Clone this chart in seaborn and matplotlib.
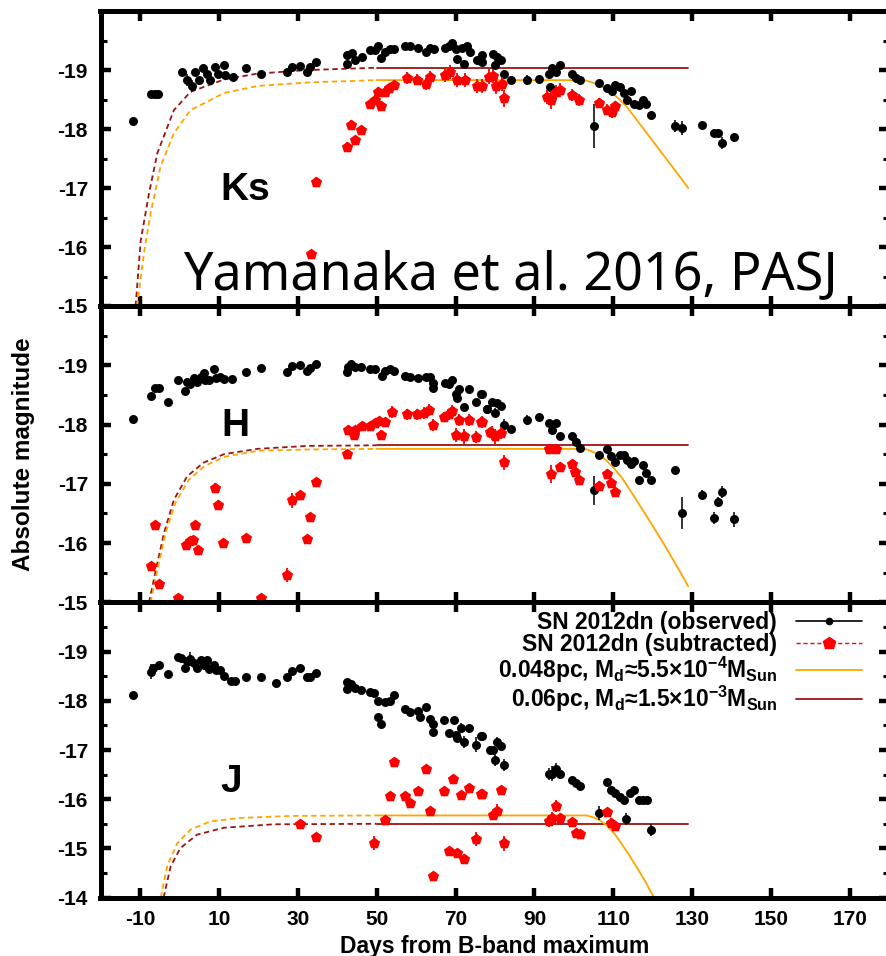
import matplotlib
matplotlib.use("Agg")
import matplotlib.pyplot as plt
from matplotlib.lines import Line2D
from matplotlib.ticker import MultipleLocator, FixedLocator
import numpy as np
import pandas as pd
import seaborn as sns

# ---------------- Ks band ----------------
ks_obs_day = [-11.7, -7.2, -6.3, -5.4, 0.6, 1.9, 3.2, 4.0, 4.9, 6.1, 7.0, 7.8, 9.1, 9.9, 11.2, 11.6,
              13.7, 16.8, 20.7, 27.3, 28.6, 30.7, 32.4, 33.2, 34.7, 42.4, 42.5, 43.8, 44.6, 46.3,
              48.4, 49.7, 50.3, 51.1, 52.2, 53.3, 54.5, 57.3, 58.4, 60.4, 62.4, 63.6, 64.5, 67.4,
              68.3, 69.1, 70.0, 70.4, 71.7, 72.1, 72.9, 73.8, 75.5, 76.7, 76.7, 79.5, 80.5, 81.5,
              80.1, 82.2, 84.1, 88.1, 91.1, 93.6, 94.5, 95.5, 96.4, 94.0, 99.5, 100.6, 101.6,
              106.3, 108.4, 109.7, 110.5, 111.6, 112.6, 113.5, 114.5, 115.3, 116.4, 117.5, 118.3,
              119.5, 105.2, 125.7, 127.5, 132.6, 135.6, 136.5, 137.5, 140.6]
ks_obs_mag = [-18.14, -18.60, -18.60, -18.60, -18.97, -18.83, -18.73, -18.97, -18.83, -19.03, -18.94,
              -18.83, -19.06, -18.94, -19.08, -18.92, -18.89, -19.03, -18.94, -18.97, -19.06, -19.07,
              -18.97, -19.06, -19.14, -19.10, -19.25, -19.29, -19.17, -19.22, -19.34, -19.34, -19.41,
              -19.20, -19.31, -19.35, -19.35, -19.41, -19.41, -19.37, -19.31, -19.37, -19.35, -19.37,
              -19.41, -19.46, -19.35, -19.18, -19.37, -19.11, -19.40, -19.31, -19.17, -19.25, -19.14,
              -19.28, -19.23, -19.17, -19.08, -18.94, -18.84, -18.83, -18.85, -18.93, -19.03, -18.97,
              -19.08, -18.71, -18.93, -18.86, -18.83, -18.78, -18.69, -18.65, -18.75, -18.71, -18.61,
              -18.50, -18.65, -18.42, -18.41, -18.49, -18.43, -18.24, -18.05, -18.05, -18.02, -18.07,
              -17.94, -17.94, -17.76, -17.86]
ks_obs_err = [0.07, 0.05, 0.05, 0.05, 0.04, 0.10, 0.10, 0.05, 0.05, 0.05, 0.05, 0.05, 0.05, 0.05, 0.05, 0.05,
              0.04, 0.04, 0.04, 0.04, 0.04, 0.04, 0.04, 0.04, 0.04, 0.05, 0.04, 0.04, 0.04, 0.04,
              0.04, 0.04, 0.04, 0.04, 0.04, 0.04, 0.04, 0.04, 0.04, 0.04, 0.04, 0.04, 0.04, 0.04,
              0.04, 0.05, 0.05, 0.06, 0.04, 0.06, 0.04, 0.04, 0.05, 0.05, 0.05, 0.04, 0.05, 0.05,
              0.06, 0.06, 0.06, 0.08, 0.06, 0.05, 0.05, 0.05, 0.05, 0.06, 0.05, 0.05, 0.05,
              0.05, 0.05, 0.05, 0.05, 0.05, 0.05, 0.05, 0.05, 0.05, 0.05, 0.05, 0.05,
              0.05, 0.37, 0.10, 0.12, 0.06, 0.06, 0.06, 0.10, 0.08]

ks_sub_day = [33.3, 34.7, 42.4, 44.5, 43.6, 46.1, 48.4, 51.0, 49.7, 50.3, 52.2, 53.1, 54.3, 57.7, 60.3,
              62.4, 63.6, 67.4, 68.7, 70.4, 72.5, 75.5, 78.4, 76.7, 79.5, 80.3, 81.8, 82.2, 93.2, 94.2,
              95.5, 96.6, 99.5, 101.2, 106.3, 108.4, 109.7, 110.5]
ks_sub_mag = [-15.89, -17.10, -17.70, -17.81, -18.07, -17.98, -18.42, -18.39, -18.49, -18.63, -18.63,
              -18.69, -18.75, -18.86, -18.84, -18.76, -18.89, -18.92, -18.97, -18.83, -18.83, -18.73,
              -18.89, -18.73, -18.90, -18.73, -18.77, -18.52, -18.55, -18.49, -18.63, -18.66, -18.58,
              -18.49, -18.44, -18.33, -18.29, -18.39]
ks_sub_err = [0.05, 0.08, 0.08, 0.08, 0.08, 0.08, 0.08, 0.08, 0.08, 0.08, 0.08, 0.08, 0.08, 0.10, 0.10,
              0.10, 0.10, 0.12, 0.12, 0.12, 0.12, 0.12, 0.12, 0.12, 0.12, 0.14, 0.12, 0.14, 0.12, 0.15,
              0.12, 0.12, 0.10, 0.10, 0.08, 0.10, 0.10, 0.08]

ks_m048_day = [-10.7, -9.0, -7.3, -4.8, -1.4, 2.8, 11.3, 19.7, 32.4, 50.0, 101.6, 103.3, 105.0, 106.7,
               108.4, 110.1, 111.8, 113.5, 116.0, 118.5, 122.7, 126.9, 129.0]
ks_m048_mag = [-15.0, -15.89, -16.57, -17.36, -17.93, -18.32, -18.61, -18.73, -18.79, -18.83, -18.83,
               -18.82, -18.78, -18.74, -18.67, -18.59, -18.49, -18.37, -18.15, -17.93, -17.56, -17.19,
               -17.0]
ks_m06_day = [-11.1, -9.8, -7.7, -5.6, -1.4, 2.8, 11.3, 19.7, 32.4, 50.0, 129.0]
ks_m06_mag = [-15.0, -16.11, -16.91, -17.59, -18.32, -18.63, -18.84, -18.94, -19.0, -19.04, -19.04]

# ---------------- H band ----------------
h_obs_day = [-11.7, -7.3, -6.3, -5.2, -2.8, -0.3, 1.3, 2.0, 2.8, 3.7, 4.4, 5.4, 6.2, 6.6, 7.5, 8.7, 9.4,
             10.4, 11.3, 13.4, 16.8, 20.7, 27.2, 28.6, 30.7, 32.4, 33.2, 34.7, 42.4, 42.7, 43.5, 44.6,
             46.1, 48.4, 49.7, 51.4, 52.1, 53.3, 54.5, 57.3, 58.4, 60.4, 62.4, 63.6, 64.3, 64.3, 67.4,
             68.3, 69.1, 70.2, 70.4, 71.0, 72.2, 73.3, 75.3, 76.5, 78.0, 76.7, 78.1, 79.3, 80.4, 81.5,
             80.1, 82.2, 84.1, 88.1, 91.1, 93.6, 94.5, 95.5, 96.4, 99.5, 100.6, 101.6, 105.2, 106.4,
             108.4, 109.4, 110.5, 111.6, 112.6, 113.5, 114.5, 115.3, 116.4, 117.5, 118.3, 119.5, 125.7,
             127.5, 132.6, 135.6, 136.5, 137.5, 140.6]
h_obs_mag = [-18.10, -18.49, -18.61, -18.61, -18.38, -18.76, -18.57, -18.72, -18.68, -18.79, -18.72,
             -18.81, -18.87, -18.76, -18.76, -18.93, -18.79, -18.80, -18.77, -18.77, -18.89, -18.95,
             -18.89, -18.99, -19.0, -18.90, -18.95, -19.02, -18.89, -18.97, -19.02, -18.97, -18.97,
             -18.93, -18.93, -18.82, -18.90, -18.93, -18.90, -18.82, -18.81, -18.79, -18.81, -18.81,
             -18.70, -18.61, -18.70, -18.68, -18.76, -18.51, -18.44, -18.60, -18.30, -18.60, -18.38,
             -18.51, -18.26, -18.51, -18.26, -18.38, -18.36, -18.32, -18.20, -18.0, -17.93, -18.08,
             -18.12, -18.02, -17.91, -18.02, -17.80, -17.80, -17.70, -17.61, -16.89, -17.48, -17.58,
             -17.47, -17.37, -17.48, -17.48, -17.41, -17.33, -17.39, -17.07, -17.31, -17.19, -17.06,
             -17.24, -16.50, -16.82, -16.42, -16.69, -16.86, -16.40]
h_obs_err = [0.03, 0.03, 0.03, 0.03, 0.03, 0.03, 0.03, 0.03, 0.03, 0.03, 0.03, 0.03, 0.03, 0.03, 0.03, 0.03,
             0.03, 0.03, 0.03, 0.03, 0.03, 0.03, 0.03, 0.03, 0.03, 0.03, 0.03, 0.03, 0.03, 0.03, 0.03,
             0.03, 0.03, 0.03, 0.03, 0.03, 0.03, 0.03, 0.03, 0.03, 0.03, 0.03, 0.03, 0.03, 0.03, 0.03,
             0.03, 0.03, 0.03, 0.05, 0.05, 0.05, 0.05, 0.05, 0.05, 0.05, 0.05, 0.05, 0.05, 0.05, 0.05,
             0.05, 0.08, 0.10, 0.05, 0.08, 0.06, 0.05, 0.05, 0.05, 0.06, 0.05, 0.05, 0.05, 0.25, 0.05,
             0.05, 0.05, 0.05, 0.05, 0.05, 0.05, 0.05, 0.05, 0.05, 0.05, 0.05, 0.05,
             0.06, 0.27, 0.08, 0.10, 0.08, 0.10, 0.12]

h_sub_day = [-7.1, -6.3, -5.2, -0.4, 1.8, 2.8, 3.5, 3.9, 4.8, 9.0, 9.8, 11.1, 16.8, 20.7, 27.3, 28.6,
             30.7, 32.4, 33.2, 34.7, 42.4, 42.7, 44.2, 44.6, 46.3, 48.4, 49.7, 50.5, 51.1, 52.2, 53.9,
             57.6, 60.3, 61.9, 63.2, 64.3, 67.2, 68.3, 69.1, 70.2, 71.0, 72.2, 73.3, 75.3, 76.5, 78.7,
             76.7, 79.3, 80.1, 81.5, 82.2, 93.6, 95.5, 94.2, 96.4, 99.5, 100.4, 101.4, 106.4, 108.4,
             109.4, 110.5]
h_sub_mag = [-15.62, -16.31, -15.31, -15.07, -15.96, -16.03, -16.06, -16.30, -15.89, -16.93, -16.65,
             -16.01, -16.09, -15.08, -15.46, -16.72, -16.82, -16.07, -16.44, -17.03, -17.51, -17.91,
             -17.83, -17.91, -17.97, -17.97, -18.03, -18.06, -17.82, -18.04, -18.21, -18.17, -18.17,
             -18.20, -18.25, -17.99, -18.13, -18.17, -18.23, -17.82, -18.08, -17.80, -18.08, -17.79,
             -18.04, -17.87, -18.04, -17.86, -17.80, -17.86, -17.36, -17.59, -17.59, -17.17, -17.29,
             -17.34, -17.20, -17.06, -16.96, -17.17, -17.02, -16.87]
h_sub_err = [0.05, 0.04, 0.04, 0.04, 0.05, 0.05, 0.05, 0.05, 0.04, 0.08, 0.08, 0.05, 0.04, 0.04, 0.12, 0.12,
             0.05, 0.04, 0.04, 0.04, 0.04, 0.08, 0.05, 0.05, 0.05, 0.05, 0.06, 0.06, 0.08, 0.06, 0.10,
             0.10, 0.10, 0.10, 0.10, 0.10, 0.08, 0.10, 0.10, 0.12, 0.10, 0.12, 0.10, 0.10, 0.08, 0.08,
             0.10, 0.12, 0.12, 0.10, 0.12, 0.08, 0.08, 0.15, 0.08, 0.06, 0.08, 0.08, 0.08, 0.08,
             0.08, 0.10]

h_m048_day = [-7.3, -5.2, -3.5, -1.0, 2.4, 6.6, 11.7, 20.1, 32.8, 50.0, 101.6, 103.3, 105.9, 108.0,
              110.1, 112.2, 114.3, 118.5, 122.7, 126.9, 129.0]
h_m048_mag = [-15.0, -15.66, -16.17, -16.68, -17.07, -17.31, -17.46, -17.56, -17.58, -17.59, -17.59,
              -17.58, -17.51, -17.41, -17.27, -17.10, -16.89, -16.45, -16.0, -15.52, -15.27]
h_m06_day = [-7.7, -5.6, -3.9, -1.4, 2.0, 6.2, 11.3, 19.7, 32.4, 50.0, 129.0]
h_m06_mag = [-15.0, -15.66, -16.17, -16.73, -17.13, -17.36, -17.50, -17.59, -17.64, -17.65, -17.65]

# ---------------- J band ----------------
j_obs_day = [-11.7, -7.3, -6.6, -5.2, -2.8, -0.3, 0.5, 1.3, 2.0, 2.8, 3.7, 4.4, 5.4, 6.2, 6.9, 7.5, 8.7,
             9.4, 10.4, 11.3, 13.0, 14.2, 16.8, 20.7, 24.4, 27.2, 28.6, 30.7, 32.4, 33.2, 34.7, 42.4,
             42.4, 43.5, 44.6, 46.1, 48.4, 49.4, 50.3, 50.3, 51.1, 52.2, 53.3, 54.5, 57.3, 58.4, 60.4,
             61.1, 62.4, 63.5, 64.3, 64.3, 67.2, 68.3, 69.5, 70.2, 70.4, 71.4, 72.2, 73.3, 75.3, 76.5,
             78.7, 76.7, 79.5, 80.1, 80.4, 81.5, 82.2, 93.6, 94.5, 95.5, 96.6, 99.5, 100.6, 101.6,
             106.3, 108.4, 109.4, 110.5, 111.6, 112.6, 113.3, 114.3, 115.3, 116.4, 117.5, 118.5, 119.5]
j_obs_mag = [-18.12, -18.59, -18.66, -18.73, -18.55, -18.89, -18.86, -18.66, -18.80, -18.85, -18.76,
             -18.66, -18.83, -18.73, -18.83, -18.64, -18.73, -18.63, -18.63, -18.51, -18.41, -18.41,
             -18.48, -18.49, -18.36, -18.48, -18.61, -18.66, -18.48, -18.48, -18.57, -18.39, -18.24,
             -18.34, -18.26, -18.22, -18.17, -18.15, -17.99, -17.67, -17.53, -17.97, -17.99, -18.12,
             -17.83, -17.78, -17.79, -17.67, -17.87, -17.63, -17.53, -17.37, -17.60, -17.34, -17.60,
             -17.31, -17.24, -17.45, -17.17, -17.45, -17.11, -17.28, -17.01, -17.28, -16.99, -16.79,
             -17.17, -17.09, -16.69, -16.52, -16.52, -16.61, -16.52, -16.40, -16.32, -16.26, -15.72,
             -16.34, -16.18, -16.13, -16.05, -15.98, -15.59, -16.13, -16.19, -15.98, -15.98, -15.98,
             -15.38]
j_obs_err = [0.03, 0.15, 0.05, 0.04, 0.04, 0.04, 0.04, 0.04, 0.04, 0.15, 0.04, 0.04, 0.04, 0.04, 0.04, 0.10,
             0.04, 0.04, 0.04, 0.04, 0.04, 0.04, 0.04, 0.04, 0.04, 0.04, 0.04, 0.04, 0.04, 0.04, 0.04,
             0.04, 0.04, 0.04, 0.04, 0.04, 0.04, 0.04, 0.04, 0.04, 0.04, 0.04, 0.04, 0.04, 0.04, 0.04,
             0.04, 0.04, 0.04, 0.04, 0.04, 0.04, 0.04, 0.04, 0.04, 0.08, 0.04, 0.10, 0.12, 0.04,
             0.15, 0.08, 0.08, 0.08, 0.08, 0.12, 0.10, 0.08, 0.12, 0.12, 0.15, 0.12, 0.10, 0.06, 0.08,
             0.08, 0.15, 0.05, 0.06, 0.06, 0.06, 0.06, 0.12, 0.06, 0.06, 0.08, 0.08, 0.08, 0.12]

j_sub_day = [30.7, 34.7, 49.3, 52.2, 53.3, 54.3, 57.3, 58.4, 60.4, 62.4, 63.5, 64.3, 67.2, 68.3, 69.4,
             70.4, 71.4, 72.2, 73.3, 75.3, 76.5, 76.7, 79.5, 80.4, 81.5, 82.2, 93.6, 94.5, 95.5, 96.6,
             99.5, 100.6, 101.6, 108.4, 109.4, 110.5]
j_sub_mag = [-15.50, -15.24, -15.11, -15.57, -16.06, -16.75, -16.06, -15.92, -16.16, -16.61, -15.77,
             -14.44, -16.16, -14.94, -16.41, -14.91, -16.09, -14.79, -16.23, -15.19, -16.11, -16.11,
             -15.67, -15.76, -16.19, -15.10, -15.55, -15.62, -15.86, -15.62, -15.53, -15.32, -15.29,
             -15.73, -15.52, -15.45]
j_sub_err = [0.05, 0.05, 0.15, 0.06, 0.05, 0.05, 0.05, 0.05, 0.05, 0.05, 0.05, 0.05, 0.05, 0.08, 0.05,
             0.08, 0.05, 0.10, 0.05, 0.15, 0.05, 0.05, 0.10, 0.15, 0.05, 0.15, 0.12, 0.12, 0.12, 0.10,
             0.08, 0.08, 0.08, 0.10, 0.10, 0.10]

j_m048_day = [-4.7, -3.1, -0.5, 2.8, 7.9, 15.5, 28.2, 50.0, 103.3, 105.0, 106.7, 108.4, 110.1, 111.8,
              113.9, 116.0, 118.1, 120.3]
j_m048_mag = [-14.0, -14.64, -15.11, -15.38, -15.55, -15.62, -15.66, -15.67, -15.67, -15.63, -15.57,
              -15.46, -15.32, -15.13, -14.88, -14.61, -14.33, -14.0]
j_m06_day = [-4.0, -2.2, 0.3, 4.5, 11.3, 23.9, 50.0, 129.0]
j_m06_mag = [-14.0, -14.64, -15.01, -15.28, -15.42, -15.49, -15.50, -15.50]

band_names = ["Ks", "H", "J"]
x_tick_values = [-10, 10, 30, 50, 70, 90, 110, 130, 150, 170]
legend_labels = ["SN 2012dn (observed)",
                 "SN 2012dn (subtracted)",
                 "0.048pc, M$_\\mathregular{d}$\u22485.5\u00d710$^\\mathregular{-4}$M$_\\mathregular{Sun}$",
                 "0.06pc, M$_\\mathregular{d}$\u22481.5\u00d710$^\\mathregular{-3}$M$_\\mathregular{Sun}$"]
citation = "Yamanaka et al. 2016, PASJ"

# ---------------- styling ----------------
sns.set_style("ticks")
plt.rcParams["font.family"] = ["Liberation Sans", "DejaVu Sans"]
plt.rcParams["axes.unicode_minus"] = False
plt.rcParams["text.color"] = "black"
plt.rcParams["axes.labelcolor"] = "black"
plt.rcParams["xtick.color"] = "black"
plt.rcParams["ytick.color"] = "black"
plt.rcParams["mathtext.fontset"] = "custom"
plt.rcParams["mathtext.rm"] = "Liberation Sans:bold"
plt.rcParams["mathtext.it"] = "Liberation Sans:bold"
plt.rcParams["mathtext.bf"] = "Liberation Sans:bold"

C_OBS = "black"
C_SUB = "#ff0000"
C_048 = "#ffa500"
C_06 = "#9b1414"
DASH = (0, (3.0, 2.0))

W, H = 886, 956
fig = plt.figure(figsize=(W / 100, H / 100), dpi=100)

left_px, right_px = 100.5, 889.4
panel_px = [(11.1, 306.0), (306.0, 602.4), (602.4, 897.6)]
ylims = [(-15, -20), (-15, -20), (-14, -20)]
axes = []
for (top, bot) in panel_px:
    ax = fig.add_axes([left_px / W, 1 - bot / H, (right_px - left_px) / W, (bot - top) / H])
    axes.append(ax)

panels = [
    (ks_obs_day, ks_obs_mag, ks_obs_err, ks_sub_day, ks_sub_mag, ks_sub_err,
     ks_m048_day, ks_m048_mag, ks_m06_day, ks_m06_mag),
    (h_obs_day, h_obs_mag, h_obs_err, h_sub_day, h_sub_mag, h_sub_err,
     h_m048_day, h_m048_mag, h_m06_day, h_m06_mag),
    (j_obs_day, j_obs_mag, j_obs_err, j_sub_day, j_sub_mag, j_sub_err,
     j_m048_day, j_m048_mag, j_m06_day, j_m06_mag),
]


def draw_model(ax, day, mag, color):
    """Model light curve: dashed before day 50, solid afterwards."""
    df = pd.DataFrame({"day": day, "mag": mag})
    early = df[df["day"] <= 50]
    late = df[df["day"] >= 50]
    sns.lineplot(data=early, x="day", y="mag", ax=ax, color=color, lw=1.3, sort=False,
                 estimator=None, linestyle=DASH, zorder=2)
    sns.lineplot(data=late, x="day", y="mag", ax=ax, color=color, lw=1.3, sort=False,
                 estimator=None, zorder=2)


for i, (ax, pdata) in enumerate(zip(axes, panels)):
    od, om, oe, sd, sm, se, m1d, m1m, m2d, m2m = pdata
    draw_model(ax, m2d, m2m, C_06)
    draw_model(ax, m1d, m1m, C_048)

    ax.errorbar(od, om, yerr=oe, fmt="none", ecolor="#222222", elinewidth=1.3, capsize=0, zorder=3)
    sns.scatterplot(x=od, y=om, ax=ax, color=C_OBS, marker="o", s=42, linewidth=0, zorder=4)
    ax.errorbar(sd, sm, yerr=se, fmt="none", ecolor=C_SUB, elinewidth=1.3, capsize=0, zorder=5)
    sns.scatterplot(x=sd, y=sm, ax=ax, color=C_SUB, marker="p", s=72, linewidth=0, zorder=6)

    ax.set_xlim(-20, 180)
    ax.set_ylim(*ylims[i])
    ax.set_xlabel("")
    ax.set_ylabel("")
    ax.xaxis.set_major_locator(FixedLocator(x_tick_values))
    ax.yaxis.set_major_locator(FixedLocator(list(range(-19, ylims[i][0] + 1))))
    ax.yaxis.set_minor_locator(MultipleLocator(0.5))
    ax.tick_params(axis="both", which="major", direction="in", length=7, width=3.2,
                   top=True, right=True, labelsize=15, pad=9, colors="black")
    ax.tick_params(axis="y", which="minor", direction="in", length=4, width=2.2, left=True, right=True)
    ax.tick_params(axis="x", which="minor", bottom=False, top=False)
    for lab in ax.get_yticklabels():
        lab.set_fontweight("bold")
    if i < 2:
        ax.tick_params(axis="x", labelbottom=False)
    else:
        for lab in ax.get_xticklabels():
            lab.set_fontweight("bold")
    for sp in ax.spines.values():
        sp.set_linewidth(3.6)
        sp.set_color("black")
    ax.set_facecolor("white")

# band labels
band_pos = [(10.4, -16.8), (10.7, -17.81), (10.4, -16.14)]
for ax, name, (bx, by) in zip(axes, band_names, band_pos):
    ax.text(bx, by, name, fontsize=28, fontweight="bold", color="black",
            ha="left", va="baseline", zorder=7)

axes[0].text(1.0, -15.28, citation, fontsize=37.5, color="black",
             family=["Noto Sans", "DejaVu Sans"], ha="left", va="baseline", zorder=7)

axes[2].set_xlabel("Days from B-band maximum", fontsize=16.5, fontweight="bold",
                   color="black", labelpad=4)
axes[1].set_ylabel("Absolute magnitude", fontsize=17.5, fontweight="bold", color="black",
                   family=["Liberation Sans Narrow", "Liberation Sans"])
axes[1].yaxis.set_label_coords((35 - left_px) / (right_px - left_px), 0.5)

handles = [
    Line2D([], [], color=C_OBS, lw=1.2, marker="o", ms=4.5),
    Line2D([], [], color=C_SUB, lw=1.0, ls=DASH, marker="p", ms=9),
    Line2D([], [], color=C_048, lw=1.3),
    Line2D([], [], color=C_06, lw=1.3),
]
leg = axes[2].legend(handles, legend_labels, loc="upper right",
                     bbox_to_anchor=((862 - left_px) / (right_px - left_px), 1 - (611 - 602.4) / 295.2),
                     frameon=False, markerfirst=False, handlelength=2.9, handletextpad=0.8,
                     labelspacing=-0.05, borderpad=0, borderaxespad=0,
                     prop={"family": "Liberation Sans", "weight": "bold", "size": 16.5})
for t in leg.get_texts():
    t.set_color("black")
leg.set_zorder(8)

fig.savefig("out.png", dpi=100, facecolor="white")
